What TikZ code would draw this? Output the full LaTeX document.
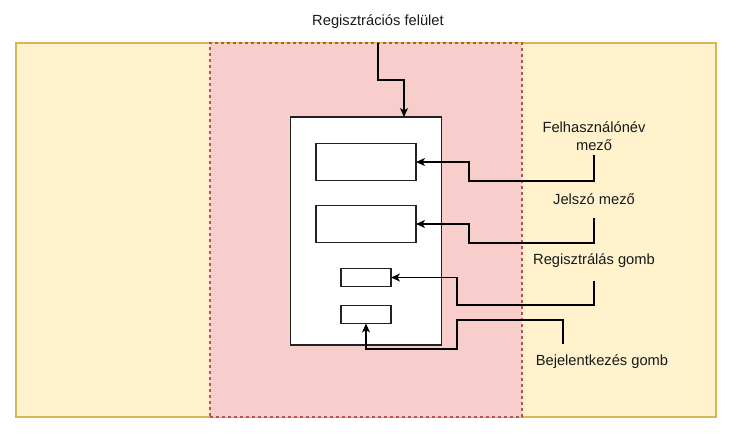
\documentclass[tikz,border=0pt]{standalone}
\usepackage{fontspec}
\setmainfont{Liberation Sans}
\usetikzlibrary{arrows.meta}
\definecolor{yfill}{HTML}{FFF2CC}
\definecolor{ystroke}{HTML}{D6B656}
\definecolor{rfill}{HTML}{F8CECC}
\definecolor{rstroke}{HTML}{B85450}
\definecolor{boxstroke}{HTML}{222222}
\tikzset{
  area/.style={rectangle, inner sep=0pt, outer sep=0pt, anchor=north west, line width=1.2pt},
  box/.style={rectangle, draw=boxstroke, fill=white, inner sep=0pt, outer sep=0pt, anchor=north west, line width=1.3pt},
  lab/.style={inner sep=0pt, font=\fontsize{14.7}{17.5}\selectfont, align=center, text=black!90},
  arr/.style={line width=1.3pt, -{Stealth[length=9pt,width=8pt,inset=2.5pt]}}
}
\begin{document}
\begin{tikzpicture}[x=1pt,y=-1pt]
\useasboundingbox (0,0) rectangle (736,441);
\node[area, fill=yfill, draw=ystroke, minimum width=700pt, minimum height=374pt] (outer) at (16,43) {};
\node[area, fill=rfill, draw=rstroke, dashed, dash pattern=on 3pt off 3pt, minimum width=312pt, minimum height=374pt] (red) at (210,43) {};
\node[box, minimum width=151pt, minimum height=228pt] (form) at (290.5,117) {};
\node[box, minimum width=100pt, minimum height=37pt] (f1) at (316,143.5) {};
\node[box, minimum width=100pt, minimum height=37pt] (f2) at (316,205.5) {};
\node[box, minimum width=50pt, minimum height=18pt] (b1) at (341,268.5) {};
\node[box, minimum width=50pt, minimum height=18pt] (b2) at (341,305.5) {};

\node[lab] (title) at (378,22) {Regisztrációs felület};
\node[lab] (l1) at (594,136) {Felhasználónév\\mező};
\node[lab] (l2) at (594,199) {Jelszó mező};
\node[lab] (l3) at (594,261) {Regisztrálás gomb};
\node[lab] (l4) at (602,362) {Bejelentkezés gomb};

\coordinate (c1) at (594,155);
\coordinate (c2) at (594,218);
\coordinate (c3) at (594,281);
\coordinate (c4) at (563,344);

\draw[arr] (title.south |- red.north) |- (404,80) -- (404,0 |- form.north);
\draw[arr] (c1) |- (469,181) |- (f1.east);
\draw[arr] (c2) |- (469,243) |- (f2.east);
\draw[arr] (c3) |- (457,305) |- (b1.east);
\draw[arr] (c4) |- (457,320) |- (366,349) -- (b2.south);
\end{tikzpicture}
\end{document}
